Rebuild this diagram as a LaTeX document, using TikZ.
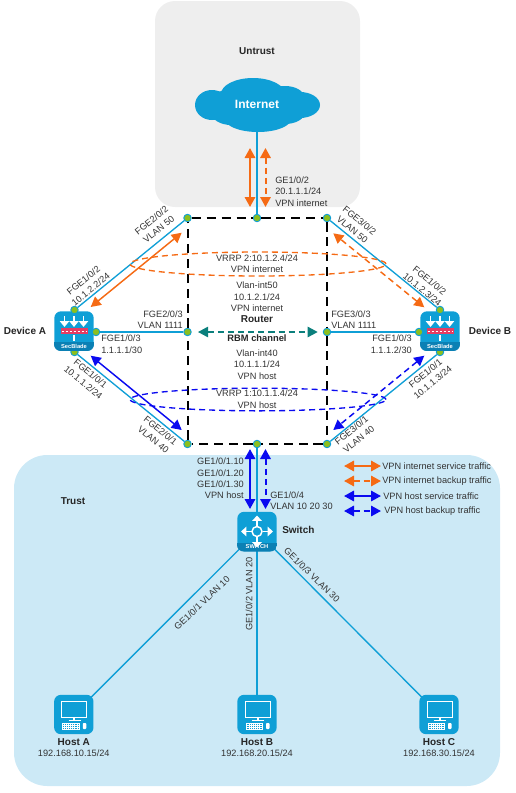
\documentclass[tikz,border=0pt]{standalone}
\usepackage{fontspec}
\setmainfont{Liberation Sans}
\usetikzlibrary{arrows.meta,positioning,shapes.geometric}

\definecolor{linkblue}{HTML}{0F9FD6}
\definecolor{bandblue}{HTML}{0B80B4}
\definecolor{trustfill}{HTML}{CCE9F6}
\definecolor{untrustfill}{HTML}{EEEEEE}
\definecolor{dotgreen}{HTML}{8CBF1E}
\definecolor{vpnorange}{HTML}{F56A14}
\definecolor{vpnblue}{HTML}{0A0AF0}
\definecolor{rbmteal}{HTML}{0B7F7C}
\definecolor{wallred}{HTML}{E53D63}
\definecolor{labelgrey}{HTML}{333333}

\tikzset{
  iconbox/.style={rounded corners=5pt,fill=linkblue,minimum size=29.5pt,inner sep=0},
  firewallicon/.pic={
    \begin{scope}
      \clip[rounded corners=5pt] (-20,-20) rectangle (20,20);
      \fill[bandblue] (-20,11) rectangle (20,20);
    \end{scope}
    \foreach \xpos in {-9.5,0,9.5} {
      \draw[white,line width=1.4pt,-{Triangle[length=4.5pt,width=7pt]}] (\xpos,-15) -- (\xpos,-4);
    }
    \fill[wallred] (-13.5,-3) rectangle (13.5,3);
    \draw[white,line width=.6pt,dash pattern=on 1.5pt off 1.5pt] (-12.5,0) -- (12.5,0);
    \fill[white] (-1,4) rectangle (1,10);
    \node[text=white,font=\bfseries\fontsize{4.3}{4}\selectfont,inner sep=0] at (0,15) {SecBlade};
  },
  switchicon/.pic={
    \begin{scope}
      \clip[rounded corners=5pt] (-20,-20) rectangle (20,20);
      \fill[bandblue] (-20,11) rectangle (20,20);
    \end{scope}
    \draw[white,line width=1.1pt] (0,0) circle (5);
    \foreach \ang in {0,90,180,270} {
      \draw[white,line width=1.2pt,-{Triangle[length=4pt,width=7pt]},rotate around={\ang:(0,0)}] (5.5,0) -- (16,0);
    }
    \node[text=white,font=\bfseries\fontsize{4.3}{4}\selectfont,inner sep=0] at (0,15.5) {SWITCH};
  },
  hosticon/.pic={
    \draw[white,line width=.7pt] (-12,-13.5) rectangle (13,2.5);
    \fill[white] (-.5,2.5) rectangle (1.5,5);
    \draw[white,line width=.5pt] (-5,5.5) -- (7,5.5);
    \fill[white] (-11.5,8) rectangle (6,15);
    \draw[linkblue,line width=.35pt,dash pattern=on .8pt off .6pt] (-10.5,9.7) -- (5,9.7) (-10.5,11.5) -- (5,11.5) (-10.5,13.3) -- (5,13.3);
    \fill[white,rounded corners=.7pt] (9,8.5) rectangle (12.5,14.5);
  }
}

\begin{document}
\begin{tikzpicture}[
  x=.75pt,y=-.75pt,
  dotnode/.style={circle,draw=linkblue,fill=dotgreen,line width=.7pt,minimum size=5.6pt,inner sep=0},
  link/.style={draw=linkblue,line width=1pt},
  frameline/.style={draw=black,line width=1.5pt,dash pattern=on 7pt off 4.2pt},
  vrrpring/.style={ellipse,line width=1pt,dash pattern=on 4.5pt off 3pt,minimum width=192pt,inner sep=0},
  bigflow/.style={{Triangle[length=7.5pt,width=7.8pt]}-{Triangle[length=7.5pt,width=7.8pt]},line width=1.5pt},
  bakflow/.style={bigflow,dash pattern=on 4.6pt off 3pt},
  thinflow/.style={line width=1.1pt},
  txt/.style={text=labelgrey,inner sep=0,align=center,font=\fontsize{6.9}{8.6}\selectfont},
  lefttxt/.style={txt,align=left,anchor=west},
  righttxt/.style={txt,align=right,anchor=east},
  boldtxt/.style={text=black!85,inner sep=0,align=center,font=\bfseries\fontsize{7.5}{9}\selectfont}
]
\useasboundingbox (0,0) rectangle (516,793);
\fill[untrustfill,rounded corners=15pt] (155,1) rectangle (360,207);
\fill[trustfill,rounded corners=25pt] (14,455) rectangle (500,786);

% cloud
\foreach \xpos/\ypos/\xrad/\yrad in {212/105/17/15,253/94/32/16,285/97/19/11,300/105/20/13,258/119/33/13,231/112/20/13,285/112/20/12,255/105/50/19} {
  \fill[linkblue] (\xpos,\ypos) ellipse [x radius=\xrad,y radius=\yrad];
}
\node[text=white,font=\bfseries\fontsize{9}{9}\selectfont,inner sep=0,minimum width=93pt,minimum height=40.5pt] (internet) at (257,104) {Internet};

% icons
\node[iconbox] (devicea) at (74,331) {};
\node[iconbox] (deviceb) at (440,331) {};
\node[iconbox] (switch) at (257,531.5) {};
\node[iconbox] (hosta) at (73.8,714.5) {};
\node[iconbox] (hostb) at (257,714.5) {};
\node[iconbox] (hostc) at (439,714.5) {};

% router and device ports
\foreach \dotname/\xpos/\ypos in {tl/187.5/218,tm/257/218,tr/327/218,ml/187.5/332,mr/327/332,bl/187.5/444,bm/257/444,br/327/444,
    atop/74.5/310,aright/96/332,abot/74.5/352,btop/440/310,bleft/419/332,bbot/440/352} {
  \node[dotnode] (\dotname) at (\xpos,\ypos) {};
}

% links
\draw[frameline] (tl) -- (tm) -- (tr) -- (mr) -- (br) -- (bm) -- (bl) -- (ml) -- (tl);
\draw[link] (internet.south) -- (tm);
\draw[link] (atop) -- (tl);
\draw[link] (aright) -- (ml);
\draw[link] (abot) -- (bl);
\draw[link] (btop) -- (tr);
\draw[link] (bleft) -- (mr);
\draw[link] (bbot) -- (br);
\draw[link] (bm) -- (switch);
\draw[link] (switch.center) -- (hosta.center);
\draw[link] (switch.center) -- (hostb.center);
\draw[link] (switch.center) -- (hostc.center);

% icon artwork
\pic at (devicea) {firewallicon};
\pic at (deviceb) {firewallicon};
\pic at (switch) {switchicon};
\pic at (hosta) {hosticon};
\pic at (hostb) {hosticon};
\pic at (hostc) {hosticon};

% vrrp groups
\node[vrrpring,draw=vpnorange,minimum height=18pt] (vrrptwo) at (258,264) {};
\node[vrrpring,draw=vpnblue,minimum height=17pt] (vrrpone) at (258,399.5) {};

% traffic arrows
\foreach \flowname/\xa/\ya/\xb/\yb in {fa/250/148/250/207,fb/265.5/148/265.5/207,fc/90.7/307/181.7/232.7,fd/424.3/307.3/333.3/233.3,
    fe/90.7/355.7/181.7/430,ff/424.3/355.7/333.3/430,fg/250/449/250/509,fh/265.5/449/265.5/509,fi/198/332/317.7/332,
    fj/344/466/381/466,fk/344/481/381/481,fl/344/496/381/496,fm/344/511/381/511} {
  \coordinate (\flowname s) at (\xa,\ya);
  \coordinate (\flowname e) at (\xb,\yb);
}
\draw[bigflow,vpnorange] (fas) -- (fae);
\draw[bakflow,vpnorange] (fbs) -- (fbe);
\draw[bigflow,thinflow,vpnorange] (fcs) -- (fce);
\draw[bakflow,thinflow,vpnorange] (fds) -- (fde);
\draw[bigflow,thinflow,vpnblue] (fes) -- (fee);
\draw[bakflow,thinflow,vpnblue] (ffs) -- (ffe);
\draw[bigflow,vpnblue] (fgs) -- (fge);
\draw[bakflow,vpnblue] (fhs) -- (fhe);
\draw[bakflow,line width=1pt,rbmteal] (fis) -- (fie);
\draw[bigflow,vpnorange] (fjs) -- (fje);
\draw[bakflow,vpnorange] (fks) -- (fke);
\draw[bigflow,vpnblue] (fls) -- (fle);
\draw[bakflow,vpnblue] (fms) -- (fme);

% zone and device names
\node[boldtxt] (untrust) at (257,51) {Untrust};
\node[boldtxt] (trust) at (73,501) {Trust};
\node[boldtxt] (namea) at (25,331) {Device A};
\node[boldtxt] (nameb) at (490,331) {Device B};
\node[boldtxt,anchor=west] (nameswitch) at (282,530) {Switch};
\node[boldtxt,below=2.8pt of hosta] (namehosta) {Host A};
\node[txt,below=2.6pt of namehosta] (iphosta) {192.168.10.15/24};
\node[boldtxt,below=2.8pt of hostb] (namehostb) {Host B};
\node[txt,below=2.6pt of namehostb] (iphostb) {192.168.20.15/24};
\node[boldtxt,below=2.8pt of hostc] (namehostc) {Host C};
\node[txt,below=2.6pt of namehostc] (iphostc) {192.168.30.15/24};

% port labels
\node[lefttxt] (uplink) at (275,191.5) {GE1/0/2\\20.1.1.1/24\\VPN internet};
\node[txt,rotate=39] (afge2) at (155,225) {FGE2/0/2\\VLAN 50};
\node[txt,rotate=39] (afge1) at (87,285) {FGE1/0/2\\10.1.2.2/24};
\node[txt,rotate=-39] (bfge2) at (356,225) {FGE3/0/2\\VLAN 50};
\node[txt,rotate=-39] (bfge1) at (426,285) {FGE1/0/2\\10.1.2.3/24};
\node[righttxt] (arouter) at (183,319.5) {FGE2/0/3\\VLAN 1111};
\node[lefttxt] (aport) at (101,344) {FGE1/0/3\\1.1.1.1/30};
\node[lefttxt] (brouter) at (331,319.5) {FGE3/0/3\\VLAN 1111};
\node[righttxt] (bport) at (412,344) {FGE1/0/3\\1.1.1.2/30};
\node[txt,rotate=-39] (agefoot) at (87,378) {FGE1/0/1\\10.1.1.2/24};
\node[txt,rotate=-39] (aroutefoot) at (157,435) {FGE2/0/1\\VLAN 40};
\node[txt,rotate=39] (bgefoot) at (429,378) {FGE1/0/1\\10.1.1.3/24};
\node[txt,rotate=39] (broutefoot) at (355,435) {FGE3/0/1\\VLAN 40};

% router labels
\node[txt] (vrrptwotxt) at (257,263.5) {VRRP 2:10.1.2.4/24\\VPN internet};
\node[txt] (vlanfifty) at (257,297) {Vlan-int50\\10.1.2.1/24\\VPN internet};
\node[boldtxt] (router) at (257,319) {Router};
\node[boldtxt,font=\bfseries\fontsize{7}{8}\selectfont] (rbm) at (257,338) {RBM channel};
\node[txt] (vlanforty) at (257,364.5) {Vlan-int40\\10.1.1.1/24\\VPN host};
\node[txt] (vrrponetxt) at (257,399) {VRRP 1:10.1.1.4/24\\VPN host};

% switch labels
\node[righttxt] (subif) at (244,478.5) {GE1/0/1.10\\GE1/0/1.20\\GE1/0/1.30\\VPN host};
\node[lefttxt] (trunk) at (270,500.5) {GE1/0/4\\VLAN 10 20 30};
\node[txt,rotate=44] (porta) at (202,603) {GE1/0/1 VLAN 10};
\node[txt,rotate=90] (portb) at (249,594) {GE1/0/2 VLAN 20};
\node[txt,rotate=-44] (portc) at (312,575) {GE1/0/3 VLAN 30};

% legend
\node[lefttxt] (legendone) at (382,466) {VPN internet service traffic};
\node[lefttxt] (legendtwo) at (382,481) {VPN internet backup traffic};
\node[lefttxt] (legendthree) at (383,496) {VPN host service traffic};
\node[lefttxt] (legendfour) at (384,511) {VPN host backup traffic};
\end{tikzpicture}
\end{document}
